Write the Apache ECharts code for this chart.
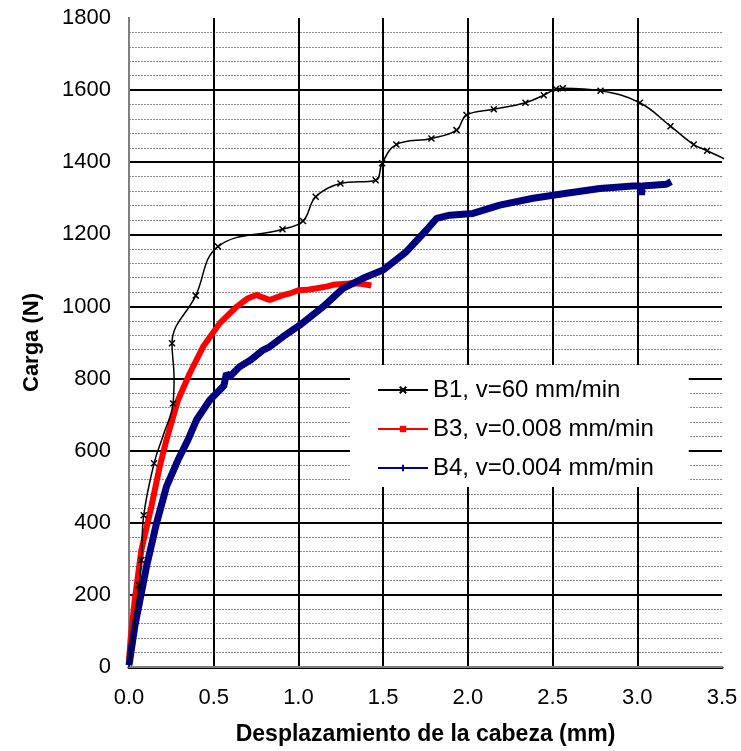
<!DOCTYPE html>
<html>
<head>
<meta charset="utf-8">
<script src="https://cdn.jsdelivr.net/npm/echarts@6/dist/echarts.min.js"></script>
<style>html,body{margin:0;padding:0;background:#fff;}#c{width:741px;height:751px;}</style>
</head>
<body>
<div id="c"></div>
<script>
// ---- data ----
const seriesNames = ['B1, v=60 mm/min', 'B3, v=0.008 mm/min', 'B4, v=0.004 mm/min'];

const b1X = [0, 0.03, 0.059, 0.073, 0.087, 0.148, 0.20, 0.26, 0.266, 0.254, 0.394, 0.525, 0.906, 1.027, 1.102, 1.248, 1.456, 1.494, 1.578, 1.785, 1.933, 1.992, 2.153, 2.34, 2.448, 2.52, 2.56, 2.783, 3.015, 3.196, 3.333, 3.412, 3.53];
const b1Y = [0, 110, 227, 297, 421, 565, 640, 731, 800, 898, 1030, 1166, 1214, 1237, 1304, 1341, 1350, 1397, 1449, 1466, 1489, 1531, 1547, 1565, 1586, 1603, 1605, 1598, 1565, 1500, 1449, 1432, 1406];
// points of B1 that carry no visible marker in the reference (curve-shape points)
const b1Unmarked = [0, 1, 6, 8, 32];

const b3X = [0, 0.01, 0.034, 0.073, 0.132, 0.181, 0.221, 0.289, 0.358, 0.437, 0.535, 0.634, 0.70, 0.752, 0.79, 0.83, 0.90, 0.949, 1.0, 1.047, 1.10, 1.165, 1.204, 1.303, 1.37, 1.43];
const b3Y = [20, 80, 186, 324, 445, 555, 630, 740, 814, 888, 953, 999, 1022, 1032, 1025, 1018, 1030, 1036, 1045, 1046, 1050, 1055, 1060, 1064, 1063, 1058];

const b4X = [0, 0.034, 0.103, 0.162, 0.221, 0.289, 0.348, 0.398, 0.476, 0.56, 0.575, 0.594, 0.653, 0.72, 0.791, 0.83, 0.909, 1.008, 1.145, 1.263, 1.381, 1.5, 1.637, 1.756, 1.815, 1.893, 2.03, 2.188, 2.385, 2.582, 2.779, 2.975, 3.02, 3.025, 3.03, 3.172, 3.2];
const b4Y = [5, 112, 278, 398, 500, 574, 630, 685, 740, 780, 814, 805, 833, 852, 879, 888, 916, 948, 999, 1050, 1078, 1101, 1152, 1212, 1244, 1253, 1258, 1281, 1300, 1314, 1327, 1334, 1334, 1309, 1334, 1339, 1346];

const xTicks = ['0.0', '0.5', '1.0', '1.5', '2.0', '2.5', '3.0', '3.5'];
const yTicks = [0, 200, 400, 600, 800, 1000, 1200, 1400, 1600, 1800];

const xTitle = 'Desplazamiento de la cabeza (mm)';
const yTitle = 'Carga (N)';

// ---- chart ----
const FONT = '"Liberation Sans", Arial, sans-serif';
const zip = (xs, ys) => xs.map((x, i) => [x, ys[i]]);
const X_MARK = 'path://M0,0L10,10M0,10L10,0';
const b1Data = zip(b1X, b1Y).map((p, i) => b1Unmarked.indexOf(i) >= 0 ? {value: p, symbol: 'none'} : p);

const chart = echarts.init(document.getElementById('c'), null, {renderer: 'canvas'});
chart.setOption({
  animation: false,
  backgroundColor: '#fff',
  grid: {left: 129, right: 19, top: 18, bottom: 84, containLabel: false},
  legend: {
    orient: 'vertical',
    left: 350, top: 365,
    backgroundColor: '#fff',
    padding: [12, 35, 6, 27],
    itemWidth: 50, itemHeight: 8, itemGap: 13,
    textStyle: {fontFamily: FONT, fontSize: 24, color: '#000', lineHeight: 26},
    data: seriesNames
  },
  xAxis: [{
    type: 'value', min: 0, max: 3.5, interval: 0.5,
    axisLine: {show: true, onZero: false, lineStyle: {color: '#000', width: 3}},
    axisTick: {show: false},
    axisLabel: {margin: 20, fontFamily: FONT, fontSize: 22, color: '#000',
      formatter: (v) => xTicks[Math.round(v / 0.5)]},
    splitLine: {show: true, showMinLine: false, showMaxLine: false, lineStyle: {color: '#000', width: 2}},
    name: xTitle, nameLocation: 'middle', nameGap: 56,
    nameTextStyle: {fontFamily: FONT, fontSize: 23, fontWeight: 'bold', color: '#000'}
  }, {
    type: 'value', position: 'top', min: 0, max: 3.5,
    axisLine: {show: true, lineStyle: {color: '#808080', width: 2}},
    axisTick: {show: false}, axisLabel: {show: false}, splitLine: {show: false}
  }],
  yAxis: [{
    type: 'value', min: 0, max: 1800, interval: 200,
    axisLine: {show: true, onZero: false, lineStyle: {color: '#000', width: 2}},
    axisTick: {show: false},
    minorTick: {show: false, splitNumber: 5},
    minorSplitLine: {show: true, lineStyle: {color: '#8a8a8a', width: 1, type: [2, 1]}},
    axisLabel: {margin: 18, fontFamily: FONT, fontSize: 22, color: '#000',
      formatter: (v) => String(yTicks[Math.round(v / 200)])},
    splitLine: {show: true, showMinLine: false, showMaxLine: false, lineStyle: {color: '#000', width: 2}},
    name: yTitle, nameLocation: 'middle', nameGap: 86,
    nameTextStyle: {fontFamily: FONT, fontSize: 22, fontWeight: 'bold', color: '#000'}
  }, {
    type: 'value', position: 'right', min: 0, max: 1800,
    axisLine: {show: true, lineStyle: {color: '#808080', width: 2}},
    axisTick: {show: false}, axisLabel: {show: false}, splitLine: {show: false}
  }],
  series: [
    {
      name: seriesNames[1], type: 'line', data: zip(b3X, b3Y),
      symbol: 'rect', symbolSize: 5, showSymbol: false,
      lineStyle: {color: '#ff0000', width: 6},
      itemStyle: {color: '#ff0000'}, z: 2
    },
    {
      name: seriesNames[2], type: 'line', data: zip(b4X, b4Y),
      symbol: 'path://M5,0L5,10M0,5L10,5', symbolSize: 7, showSymbol: false,
      lineStyle: {color: '#000080', width: 7},
      itemStyle: {color: '#000080', borderColor: '#000080', borderWidth: 1.5}, z: 3
    },
    {
      name: seriesNames[0], type: 'line', data: b1Data,
      smooth: 0.4,
      symbol: X_MARK, symbolSize: 6, showSymbol: true,
      lineStyle: {color: '#000', width: 1.5},
      itemStyle: {color: '#000', borderColor: '#000', borderWidth: 1.5}, z: 4
    }
  ]
});
</script>
</body>
</html>
